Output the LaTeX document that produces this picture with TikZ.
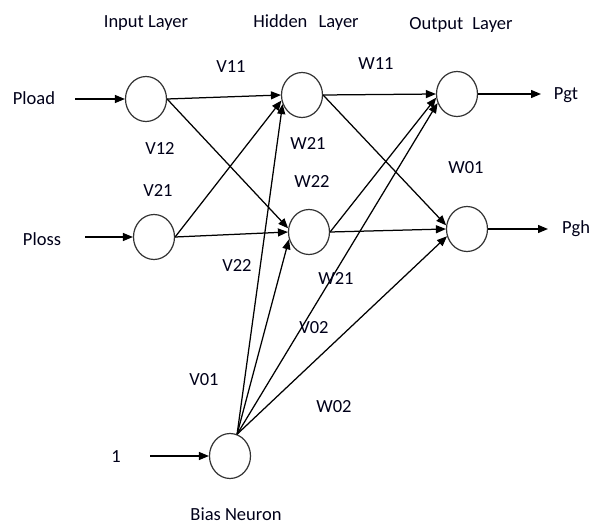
\documentclass[tikz,border=0pt]{standalone}
\usepackage{fontspec}
\setmainfont{Carlito}
\usetikzlibrary{arrows.meta,shapes.geometric}
\tikzset{
  neuron/.style={ellipse, draw=black!80, line width=1.2pt, minimum width=41pt, minimum height=45pt, inner sep=0pt},
  lbl/.style={font=\fontsize{18.5}{20}\selectfont, text=black!90!blue, inner sep=0pt},
  wire/.style={line width=1.25pt, -{Triangle[length=10pt,width=8pt]}},
}
\begin{document}
\begin{tikzpicture}[x=1pt,y=-1pt]
\useasboundingbox[fill=white] (0,0) rectangle (592,527);

% neurons
\node[neuron] (i1) at (146,99) {};
\node[neuron] (i2) at (154,237) {};
\node[neuron] (h1) at (302,95) {};
\node[neuron] (h2) at (309,232) {};
\node[neuron] (o1) at (457,94) {};
\node[neuron] (o2) at (467,229) {};
\node[neuron] (b)  at (230,456) {};

% layer titles
\node[lbl] (tin)  at (146,23) {Input Layer};
\node[lbl] (thid) at (306,23) {Hidden\hspace{0.6em}Layer};
\node[lbl] (tout) at (461,25) {Output\hspace{0.5em}Layer};
\node[lbl] (tbias) at (236,514) {Bias Neuron};

% inputs and outputs
\node[lbl] (pload) at (34,98) {Pload};
\node[lbl] (ploss) at (42,239) {Ploss};
\node[lbl] (one) at (116,457) {1};
\node[lbl] (pgt) at (566,95) {Pgt};
\node[lbl] (pgh) at (576,229) {Pgh};
\coordinate (ploadend) at (75,99);
\coordinate (plossend) at (85,237);
\coordinate (oneend) at (150,456);
\coordinate (pgtend) at (541,94);
\coordinate (pghend) at (548,229);

\draw[wire] (ploadend) -- (i1.west);
\draw[wire] (plossend) -- (i2.west);
\draw[wire] (oneend) -- (b.west);
\draw[wire] (o1.east) -- (pgtend);
\draw[wire] (o2.east) -- (pghend);

% input to hidden
\draw[wire] (i1.east) -- (h1.west);
\draw[wire] (i1.east) -- (h2.170);
\draw[wire] (i2.east) -- (h1.195);
\draw[wire] (i2.east) -- (h2.west);

% hidden to output
\draw[wire] (h1.east) -- (o1.west);
\draw[wire] (h1.east) -- (o2.170);
\draw[wire] (h2.east) -- (o1.190);
\draw[wire] (h2.east) -- (o2.west);

% bias connections
\coordinate (bt) at (b.72);
\draw[wire] (bt) -- (h1.205);
\draw[wire] (bt) -- (h2.200);
\draw[wire] (bt) -- (o1.205);
\draw[wire] (bt) -- (o2.200);

% weight labels
\node[lbl] (v11) at (231,67) {V11};
\node[lbl] (v12) at (160,148) {V12};
\node[lbl] (v21) at (158,190) {V21};
\node[lbl] (v22) at (237,265) {V22};
\node[lbl] (v02) at (314,328) {V02};
\node[lbl] (v01) at (204,380) {V01};
\node[lbl] (w11) at (376,64) {W11};
\node[lbl] (w21a) at (308,143) {W21};
\node[lbl] (w22) at (312,181) {W22};
\node[lbl] (w01) at (466,168) {W01};
\node[lbl] (w21b) at (336,278) {W21};
\node[lbl] (w02) at (334,407) {W02};
\end{tikzpicture}
\end{document}
